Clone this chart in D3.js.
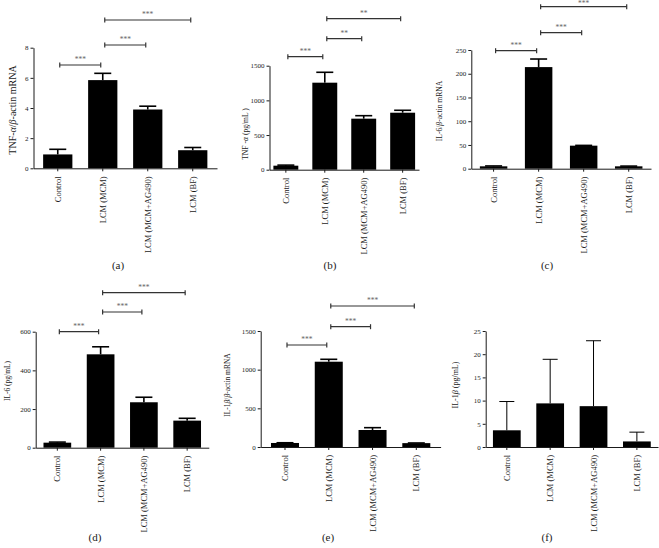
<!DOCTYPE html>
<html><head><meta charset="utf-8">
<script src="https://cdn.jsdelivr.net/npm/d3@7"></script>
<style>
html,body{margin:0;padding:0;background:#fff;}
svg{display:block;font-family:"Liberation Serif","Times New Roman",serif;}
</style>
</head><body>
<svg id="chart" width="659" height="548"></svg>
<script>
// ---- data ----
const categories = ["Control", "LCM (MCM)", "LCM (MCM+AG490)", "LCM (BF)"];

const tnfMrnaValues = [0.92, 5.85, 3.9, 1.2];
const tnfMrnaErrors = [0.34, 0.45, 0.22, 0.18];
const tnfMrnaTicks = [0, 2, 4, 6, 8];
const tnfMrnaSig = ["***", "***", "***"];

const tnfProteinValues = [58, 1255, 736, 822];
const tnfProteinErrors = [8, 150, 43, 35];
const tnfProteinTicks = [0, 500, 1000, 1500];
const tnfProteinSig = ["***", "**", "**"];

const il6MrnaValues = [5, 214, 48.5, 5];
const il6MrnaErrors = [0.8, 17, 0.6, 0.5];
const il6MrnaTicks = [0, 50, 100, 150, 200, 250];
const il6MrnaSig = ["***", "***", "***"];

const il6ProteinValues = [26, 483, 235, 140];
const il6ProteinErrors = [3, 39, 26, 12];
const il6ProteinTicks = [0, 200, 400, 600];
const il6ProteinSig = ["***", "***", "***"];

const il1bMrnaValues = [52, 1103, 220, 50];
const il1bMrnaErrors = [3, 31, 30, 2];
const il1bMrnaTicks = [0, 500, 1000, 1500];
const il1bMrnaSig = ["***", "***", "***"];

const il1bProteinValues = [3.6, 9.4, 8.8, 1.2];
const il1bProteinErrors = [6.2, 9.5, 14.1, 2.0];
const il1bProteinTicks = [0, 5, 10, 15, 20, 25];
const il1bProteinSig = [];

const sigPairs = [[0, 1], [1, 2], [1, 3]];
const panelLetters = ["(a)", "(b)", "(c)", "(d)", "(e)", "(f)"];
const yTitles = ["TNF-α/β-actin mRNA", "TNF -α (pg/mL )", "IL-6/β-actin mRNA",
                 "IL-6 (pg/mL)", "IL-1β/β-actin mRNA", "IL-1β (pg/mL)"];

// ---- layout (positions/styles) ----
const layouts = [
  {axisX:33.5, xEnd:217, pi:0.35, po:0.214, y0:168.3, y1:47.7, sigY:[65,45,20], titleX:12, titleY:110, titleSize:10, letterX:118, letterY:265, thin:false},
  {axisX:269.5, xEnd:419, pi:0.36, po:0.10, y0:169.7, y1:65.7, sigY:[56.7,38.7,18.7], titleX:245, titleY:134, titleSize:7.6, letterX:330, letterY:265, thin:false},
  {axisX:471.3, xEnd:651, pi:0.39, po:0.19, y0:168.7, y1:50, sigY:[50.7,32.7,6.7], titleX:439, titleY:111, titleSize:7.6, letterX:547, letterY:265, thin:false},
  {axisX:35.7, xEnd:208.8, pi:0.36, po:0.18, y0:447.7, y1:331.7, sigY:[331.7,312,292.7], titleX:7.5, titleY:381, titleSize:7.5, letterX:95, letterY:537, thin:false},
  {axisX:260.7, xEnd:440.6, pi:0.36, po:0.235, y0:447, y1:331, sigY:[345,326.7,306], titleX:227.3, titleY:385, titleSize:7.5, letterX:328, letterY:537, thin:false},
  {axisX:485.7, xEnd:658, pi:0.36, po:0.167, y0:447, y1:331, sigY:[], titleX:455, titleY:385, titleSize:8, letterX:547, letterY:537, thin:true}
];

const panelData = [
  {values:tnfMrnaValues, errors:tnfMrnaErrors, ticks:tnfMrnaTicks, sig:tnfMrnaSig},
  {values:tnfProteinValues, errors:tnfProteinErrors, ticks:tnfProteinTicks, sig:tnfProteinSig},
  {values:il6MrnaValues, errors:il6MrnaErrors, ticks:il6MrnaTicks, sig:il6MrnaSig},
  {values:il6ProteinValues, errors:il6ProteinErrors, ticks:il6ProteinTicks, sig:il6ProteinSig},
  {values:il1bMrnaValues, errors:il1bMrnaErrors, ticks:il1bMrnaTicks, sig:il1bMrnaSig},
  {values:il1bProteinValues, errors:il1bProteinErrors, ticks:il1bProteinTicks, sig:il1bProteinSig}
];

const svg = d3.select("#chart");
const ink = "#1a1a1a";
const serif = "Liberation Serif, Times New Roman, serif";

function addRichText(sel, str) {
  const parts = str.split(/([αβ])/);
  parts.forEach(p => {
    if (!p) return;
    const t = sel.append("tspan").text(p);
    if (p === "α" || p === "β") t.attr("font-style", "italic");
  });
}

panelData.forEach((pd, i) => {
  const L = layouts[i];
  const g = svg.append("g");
  const x = d3.scaleBand().domain(categories).range([L.axisX, L.xEnd])
    .paddingInner(L.pi).paddingOuter(L.po);
  const yMax = pd.ticks[pd.ticks.length - 1];
  const y = d3.scaleLinear().domain([0, yMax]).range([L.y0, L.y1]);
  const bw = x.bandwidth();

  // bars
  g.selectAll("rect.bar").data(categories).join("rect")
    .attr("x", d => x(d)).attr("width", bw)
    .attr("y", (d, k) => y(pd.values[k]))
    .attr("height", (d, k) => y(0) - y(pd.values[k]))
    .attr("fill", "#000");

  // error bars
  const capW = L.thin ? 15 : 17;
  const sw = L.thin ? 1 : 1.6;
  categories.forEach((c, k) => {
    const cx = x(c) + bw / 2;
    const top = y(pd.values[k] + pd.errors[k]);
    g.append("line").attr("x1", cx).attr("x2", cx)
      .attr("y1", y(pd.values[k])).attr("y2", top)
      .attr("stroke", "#000").attr("stroke-width", sw);
    g.append("line").attr("x1", cx - capW / 2).attr("x2", cx + capW / 2)
      .attr("y1", top).attr("y2", top)
      .attr("stroke", "#000").attr("stroke-width", sw);
  });

  // y axis
  const ya = g.append("g").attr("transform", `translate(${L.axisX},0)`)
    .call(d3.axisLeft(y).tickValues(pd.ticks).tickFormat(d3.format("d"))
      .tickSize(3).tickSizeOuter(0).tickPadding(2));
  ya.select(".domain").attr("stroke", ink);
  ya.selectAll(".tick line").attr("stroke", ink);
  ya.selectAll(".tick text").attr("font-size", 7).attr("fill", ink)
    .attr("font-family", serif);

  // x axis
  const xa = g.append("g").attr("transform", `translate(0,${L.y0})`)
    .call(d3.axisBottom(x).tickSize(3).tickSizeOuter(0));
  xa.select(".domain").attr("stroke", ink);
  xa.selectAll(".tick line").attr("stroke", ink);
  xa.selectAll(".tick text")
    .attr("font-size", 8.5).attr("fill", ink).attr("font-family", serif)
    .attr("transform", "rotate(-90)").attr("text-anchor", "end")
    .attr("x", -8).attr("y", 0).attr("dy", "0.35em");

  // y title
  const tt = g.append("text")
    .attr("transform", `translate(${L.titleX},${L.titleY}) rotate(-90)`)
    .attr("text-anchor", "middle").attr("dy", "0.35em")
    .attr("font-size", L.titleSize).attr("fill", ink);
  addRichText(tt, yTitles[i]);

  // significance brackets
  pd.sig.forEach((s, k) => {
    const [a, b] = sigPairs[k];
    const x1 = x(categories[a]) + bw / 2 + 2;
    const x2 = x(categories[b]) + bw / 2 - 2;
    const yy = L.sigY[k];
    g.append("line").attr("x1", x1).attr("x2", x2).attr("y1", yy).attr("y2", yy)
      .attr("stroke", "#333").attr("stroke-width", 1.2);
    [x1, x2].forEach(xx => g.append("line").attr("x1", xx).attr("x2", xx)
      .attr("y1", yy - 2.5).attr("y2", yy + 2.5).attr("stroke", "#333").attr("stroke-width", 1.2));
    g.append("text").attr("x", (x1 + x2) / 2).attr("y", Math.max(yy - 3, 6))
      .attr("text-anchor", "middle").attr("font-size", 7.5).attr("fill", "#666")
      .text(s);
  });

  // panel letter
  g.append("text").attr("x", L.letterX).attr("y", L.letterY).attr("dy", "0.35em")
    .attr("text-anchor", "middle").attr("font-size", 11).attr("fill", ink)
    .text(panelLetters[i]);
});
</script>
</body></html>
